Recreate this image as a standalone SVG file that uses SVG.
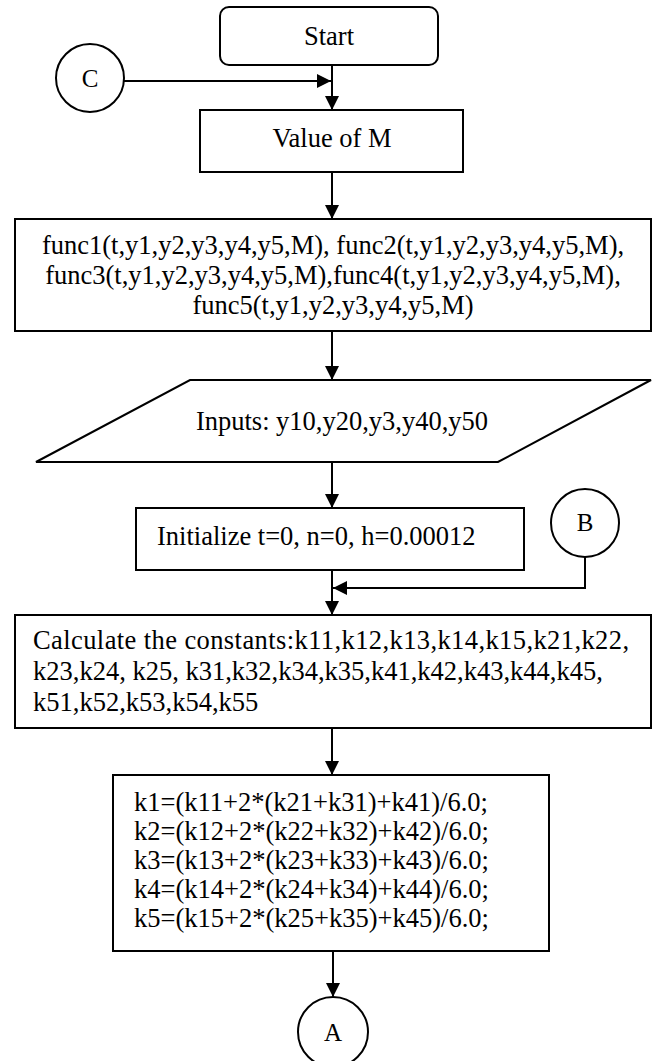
<svg xmlns="http://www.w3.org/2000/svg" width="656" height="1061" viewBox="0 0 656 1061">
<style>
  .box{fill:#fff;stroke:#000;stroke-width:2}
  .t{font-family:"Liberation Serif","Times New Roman",serif;font-size:26.5px;fill:#000}
  .c{text-anchor:middle}
  .lt{font-family:"Liberation Serif","Times New Roman",serif;font-size:25px;fill:#000;text-anchor:middle}
  .ln{fill:none;stroke:#000;stroke-width:2}
</style>
<defs>
  <marker id="ah" markerUnits="userSpaceOnUse" markerWidth="14" markerHeight="14" refX="14" refY="7" orient="auto">
    <path d="M0,0 L14,7 L0,14 Z" fill="#000"/>
  </marker>
</defs>
<rect width="656" height="1061" fill="#fff"/>
<g id="connectors">
  <line class="ln" x1="332" y1="65" x2="332" y2="110" marker-end="url(#ah)"/>
  <line class="ln" x1="124" y1="81" x2="331" y2="81" marker-end="url(#ah)"/>
  <line class="ln" x1="332" y1="172" x2="332" y2="219" marker-end="url(#ah)"/>
  <line class="ln" x1="332" y1="331" x2="332" y2="380" marker-end="url(#ah)"/>
  <line class="ln" x1="332" y1="462" x2="332" y2="508" marker-end="url(#ah)"/>
  <line class="ln" x1="332" y1="570" x2="332" y2="615" marker-end="url(#ah)"/>
  <polyline class="ln" points="585,557 585,588 333,588" marker-end="url(#ah)"/>
  <line class="ln" x1="332" y1="728" x2="332" y2="775" marker-end="url(#ah)"/>
  <line class="ln" x1="333" y1="951" x2="333" y2="997" marker-end="url(#ah)"/>
</g>
<g id="start">
  <rect class="box" x="220" y="7" width="218" height="58" rx="9"/>
  <text class="t c" x="329" y="45">Start</text>
</g>
<g id="connC">
  <circle class="box" cx="90" cy="78" r="34"/>
  <text class="lt" x="90" y="87">C</text>
</g>
<g id="valueM">
  <rect class="box" x="200" y="110" width="263" height="62"/>
  <text class="t c" x="332" y="147">Value of M</text>
</g>
<g id="funcs">
  <rect class="box" x="15" y="219" width="636" height="112"/>
  <text class="t c" x="333" y="254">func1(t,y1,y2,y3,y4,y5,M), func2(t,y1,y2,y3,y4,y5,M),</text>
  <text class="t c" x="333" y="284">func3(t,y1,y2,y3,y4,y5,M),func4(t,y1,y2,y3,y4,y5,M),</text>
  <text class="t c" x="333" y="314">func5(t,y1,y2,y3,y4,y5,M)</text>
</g>
<g id="inputs">
  <polygon class="box" points="190,380 651,380 498,462 36,462"/>
  <text class="t c" x="342" y="430">Inputs: y10,y20,y3,y40,y50</text>
</g>
<g id="init">
  <rect class="box" x="136" y="508" width="388" height="62"/>
  <text class="t" x="157" y="545">Initialize t=0, n=0, h=0.00012</text>
</g>
<g id="connB">
  <circle class="box" cx="585" cy="523" r="34"/>
  <text class="lt" x="585" y="531">B</text>
</g>
<g id="calc">
  <rect class="box" x="15" y="615" width="636" height="113"/>
  <text class="t" x="33" y="649" textLength="596" lengthAdjust="spacing">Calculate the constants:k11,k12,k13,k14,k15,k21,k22,</text>
  <text class="t" x="33" y="680">k23,k24, k25, k31,k32,k34,k35,k41,k42,k43,k44,k45,</text>
  <text class="t" x="33" y="711">k51,k52,k53,k54,k55</text>
</g>
<g id="kcalc">
  <rect class="box" x="113" y="775" width="436" height="176"/>
  <text class="t" x="134" y="811">k1=(k11+2*(k21+k31)+k41)/6.0;</text>
  <text class="t" x="134" y="840">k2=(k12+2*(k22+k32)+k42)/6.0;</text>
  <text class="t" x="134" y="869">k3=(k13+2*(k23+k33)+k43)/6.0;</text>
  <text class="t" x="134" y="898">k4=(k14+2*(k24+k34)+k44)/6.0;</text>
  <text class="t" x="134" y="927">k5=(k15+2*(k25+k35)+k45)/6.0;</text>
</g>
<g id="connA">
  <circle class="box" cx="333" cy="1032" r="35"/>
  <text class="lt" x="333" y="1041">A</text>
</g>
</svg>
